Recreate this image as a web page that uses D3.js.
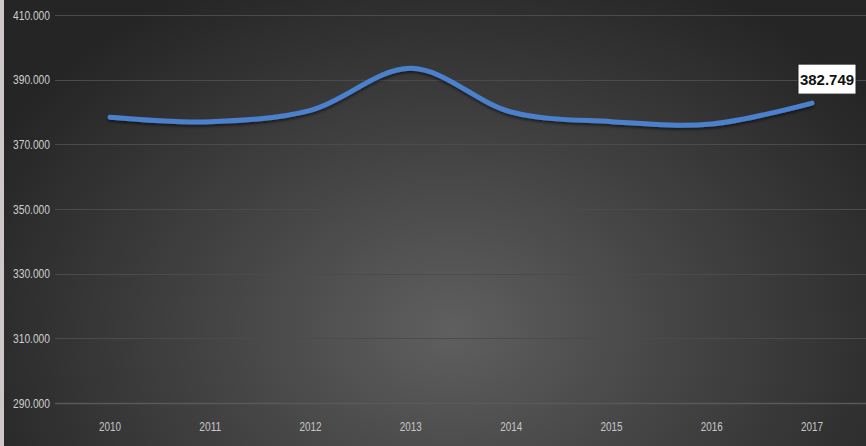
<!DOCTYPE html>
<html><head><meta charset="utf-8">
<script src="https://cdn.jsdelivr.net/npm/d3@7"></script>
<style>
html,body{margin:0;padding:0;background:#2a2a2a;overflow:hidden}
text{font-family:"Liberation Sans","Arimo",sans-serif}
</style></head>
<body><svg id="c" width="866" height="446"></svg>
<script>
const years = ["2010","2011","2012","2013","2014","2015","2016","2017"];
const values = [378.4, 377.0, 380.5, 393.5, 380.0, 377.0, 376.3, 382.749];
const yTicks = [290, 310, 330, 350, 370, 390, 410];
const lastLabel = "382.749";

const W = 866, H = 446;
const svg = d3.select("#c");
const defs = svg.append("defs");
const rg = defs.append("radialGradient").attr("id","bg")
  .attr("gradientUnits","userSpaceOnUse")
  .attr("cx",450).attr("cy",330).attr("r",520)
  .attr("gradientTransform","translate(450,330) scale(1,0.75) translate(-450,-330)");
rg.append("stop").attr("offset","0%").attr("stop-color","#5f5f5f");
rg.append("stop").attr("offset","45%").attr("stop-color","#444444");
rg.append("stop").attr("offset","100%").attr("stop-color","#252525");
const sh = defs.append("filter").attr("id","sh").attr("x","-5%").attr("y","-50%").attr("width","110%").attr("height","200%");
sh.append("feDropShadow").attr("dx",0).attr("dy",2).attr("stdDeviation",1.5).attr("flood-color","#000").attr("flood-opacity",0.55);

svg.append("rect").attr("width",W).attr("height",H).attr("fill","url(#bg)");
svg.append("rect").attr("x",0).attr("y",0).attr("width",4).attr("height",H).attr("fill","#cfc8c8");

const x = d3.scalePoint().domain(years).range([110, 812]);
const y = d3.scaleLinear().domain([290, 410]).range([403, 15]);

// grid
const grid = svg.append("g");
grid.selectAll("line").data(yTicks).join("line")
  .attr("x1",55).attr("x2",W)
  .attr("y1",d=>Math.round(y(d))+0.5).attr("y2",d=>Math.round(y(d))+0.5)
  .attr("stroke",d=>d===290?"#595959":"#4b4b4b").attr("stroke-width",d=>d===290?1.5:1);

// y labels
svg.append("g").selectAll("text").data(yTicks).join("text")
  .attr("x",50).attr("y",d=>y(d)+4.5)
  .attr("text-anchor","end").attr("fill","#d0d0d0").attr("font-size",12)
  .attr("textLength",37).attr("lengthAdjust","spacingAndGlyphs")
  .text(d=>d3.format(".3f")(d));

// x labels
svg.append("g").selectAll("text").data(years).join("text")
  .attr("x",d=>x(d)).attr("y",431)
  .attr("text-anchor","middle").attr("fill","#c8c8c8").attr("font-size",12)
  .attr("textLength",22).attr("lengthAdjust","spacingAndGlyphs")
  .text(d=>d);

// line
const line = d3.line().x((d,i)=>x(years[i])).y(d=>y(d)).curve(d3.curveCatmullRom.alpha(0.5));
svg.append("path").datum(values).attr("d",line)
  .attr("fill","none").attr("stroke","#4b80cc").attr("stroke-width",5)
  .attr("stroke-linecap","round").attr("filter","url(#sh)");

// data label
const lx = x(years[7]), ly = y(values[7]);
const g = svg.append("g");
g.append("rect").attr("x",lx-14).attr("y",ly-39).attr("width",58).attr("height",30)
  .attr("fill","#ffffff").attr("stroke","#222").attr("stroke-width",1);
g.append("text").attr("x",lx+15).attr("y",ly-18.5).attr("text-anchor","middle")
  .attr("font-size",15).attr("font-weight","bold").attr("fill","#111")
  .text(lastLabel);
</script></body></html>
